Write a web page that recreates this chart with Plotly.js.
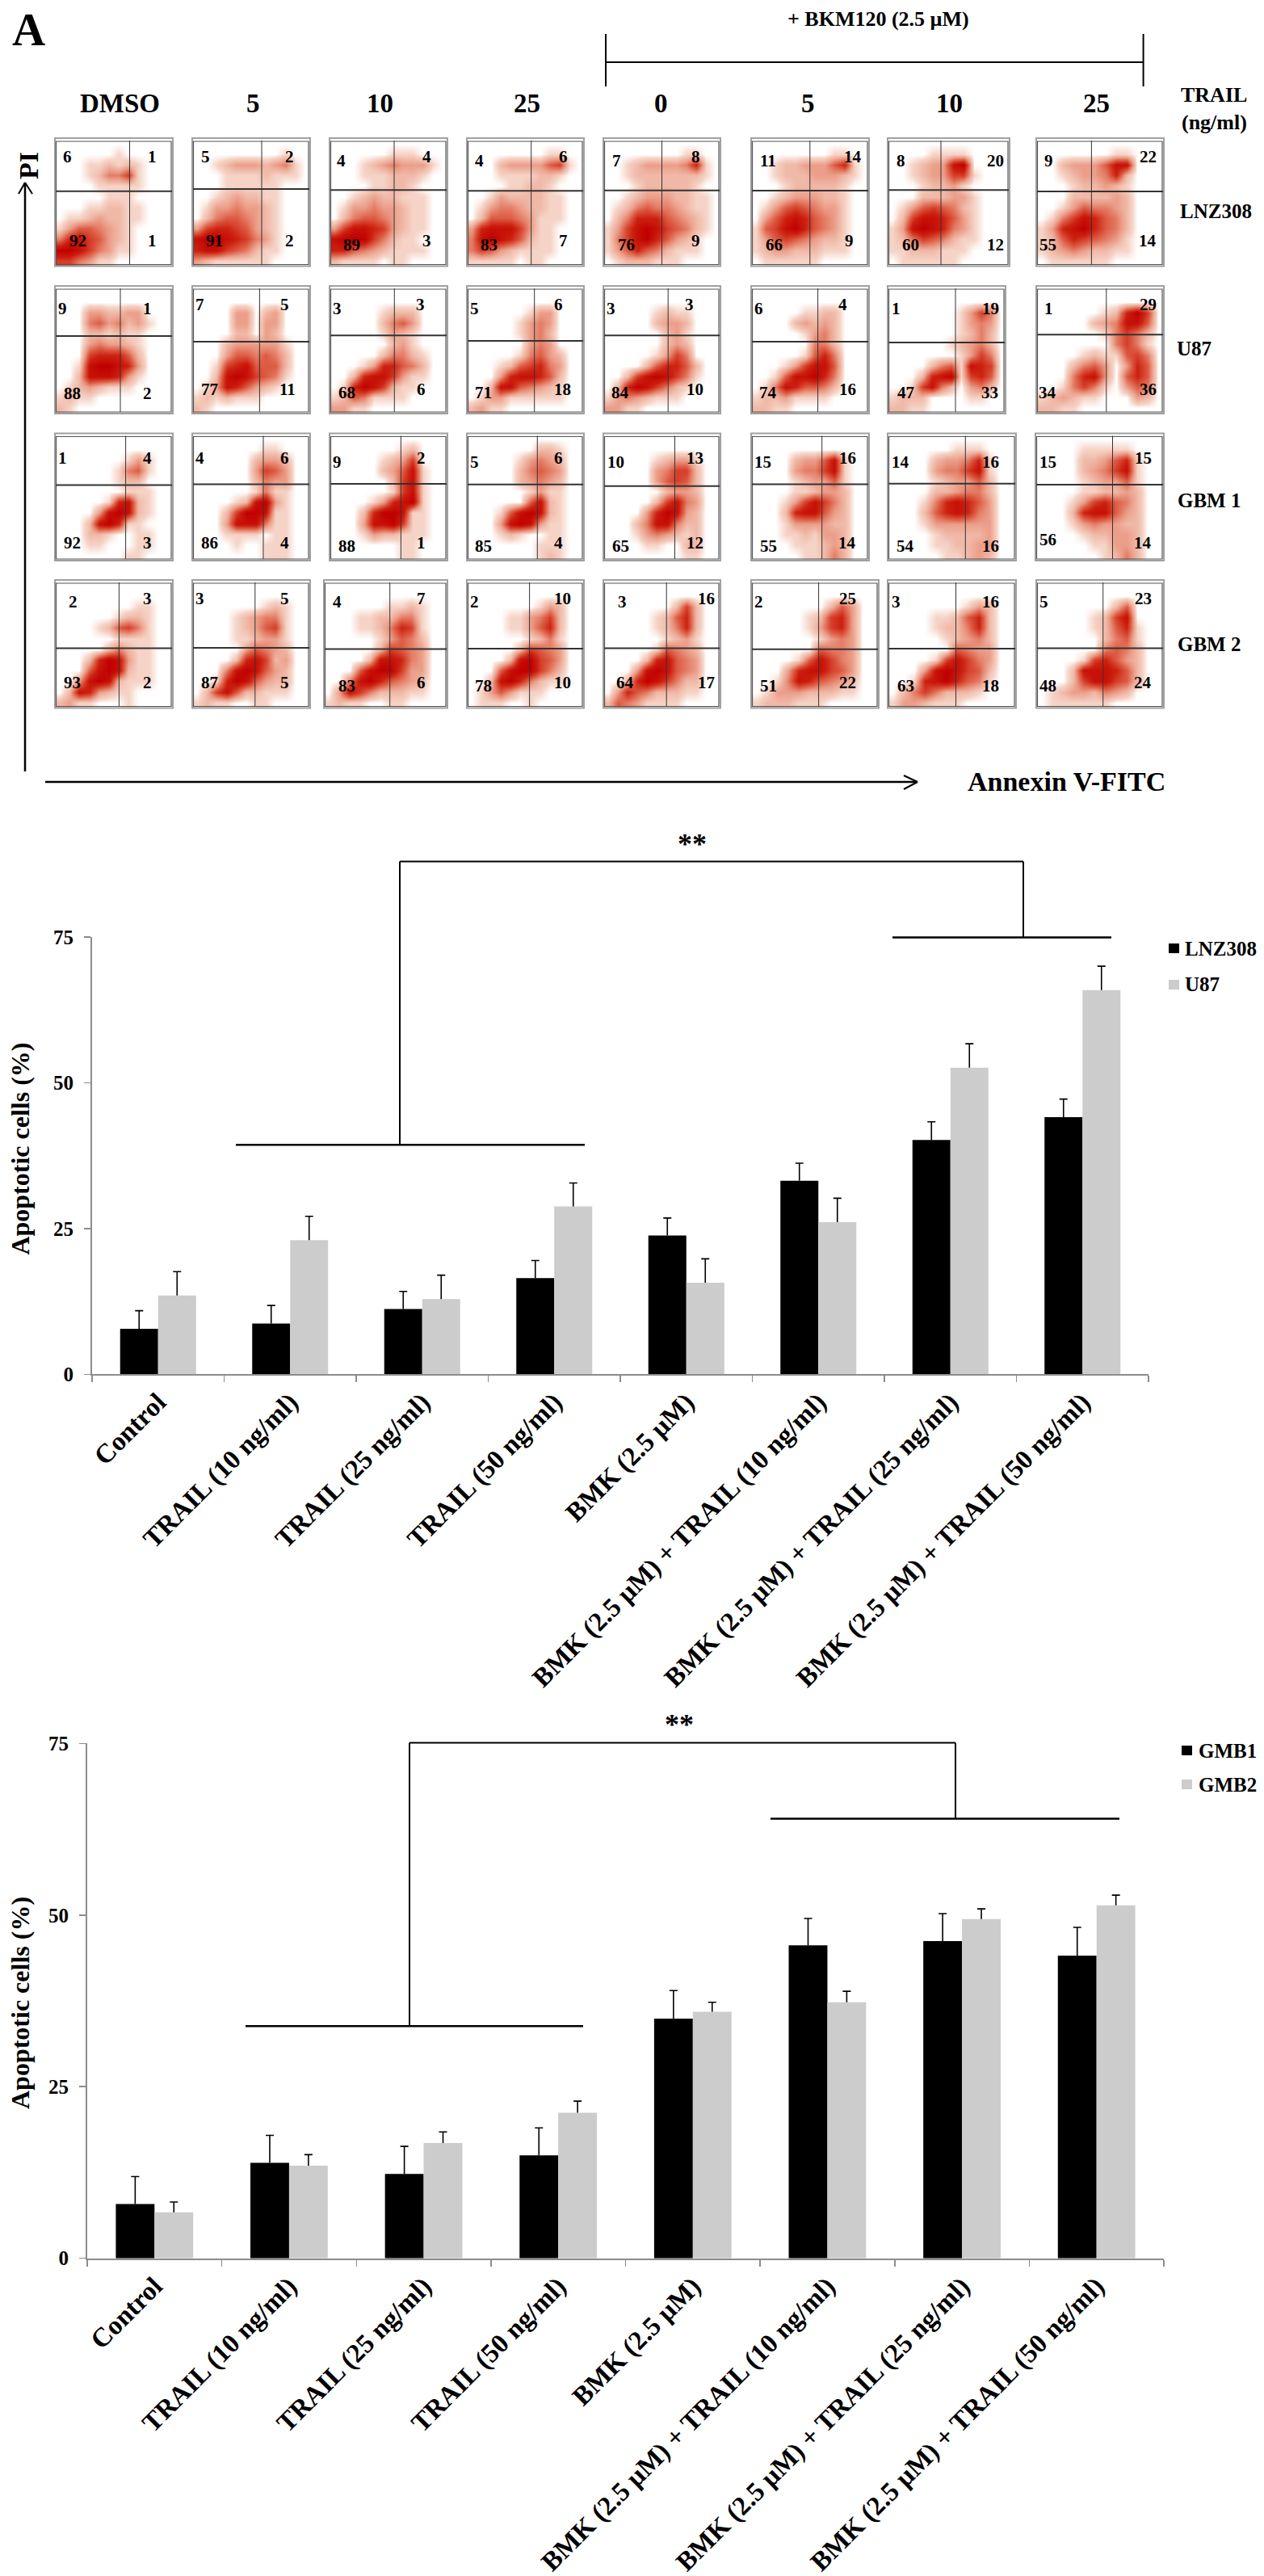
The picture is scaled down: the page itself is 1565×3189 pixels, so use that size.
<!DOCTYPE html>
<html><head><meta charset="utf-8">
<script src="https://cdn.plot.ly/plotly-3.0.1.min.js"></script>
<style>html,body{margin:0;padding:0;background:#fff}</style></head>
<body><div id="chart" style="width:1565px;height:3189px"></div>
<script>
// ---------- bar chart data ----------
const categories = ["Control","TRAIL (10 ng/ml)","TRAIL (25 ng/ml)","TRAIL (50 ng/ml)","BMK (2.5 µM)","BMK (2.5 µM) + TRAIL (10 ng/ml)","BMK (2.5 µM) + TRAIL (25 ng/ml)","BMK (2.5 µM) + TRAIL (50 ng/ml)"];
const lnz308 = [7.8,8.7,11.2,16.5,23.8,33.2,40.2,44.1];
const lnz308Err = [3.1,3.1,3.0,3.0,3.0,3.0,3.1,3.1];
const u87 = [13.5,23.0,12.9,28.8,15.7,26.1,52.6,65.9];
const u87Err = [4.1,4.1,4.1,4.0,4.1,4.1,4.1,4.1];
const gmb1 = [7.9,13.9,12.3,15.0,34.9,45.6,46.2,44.1];
const gmb1Err = [4.0,4.0,4.0,4.0,4.1,3.9,4.0,4.1];
const gmb2 = [6.7,13.5,16.8,21.2,35.9,37.3,49.4,51.4];
const gmb2Err = [1.5,1.6,1.6,1.7,1.4,1.6,1.5,1.5];
const noErr = [0,0,0,0,0,0,0,0];
const yTicks = [0,25,50,75];

// ---------- flow panel labels ----------
const columnLabels = ["DMSO","5","10","25","0","5","10","25"];
const rowLabels = ["LNZ308","U87","GBM 1","GBM 2"];
// quadrant percentages: [upper-left, upper-right, lower-left, lower-right]
const quadLNZ308 = [[6,1,92,1],[5,2,91,2],[4,4,89,3],[4,6,83,7],[7,8,76,9],[11,14,66,9],[8,20,60,12],[9,22,55,14]];
const quadU87 = [[9,1,88,2],[7,5,77,11],[3,3,68,6],[5,6,71,18],[3,3,84,10],[6,4,74,16],[1,19,47,33],[1,29,34,36]];
const quadGBM1 = [[1,4,92,3],[4,6,86,4],[9,2,88,1],[5,6,85,4],[10,13,65,12],[15,16,55,14],[14,16,54,16],[15,15,56,14]];
const quadGBM2 = [[2,3,93,2],[3,5,87,5],[4,7,83,6],[2,10,78,10],[3,16,64,17],[2,25,51,22],[3,16,63,18],[5,23,48,24]];

// ---------- event density: 12 x 12 cells, top row first, 0 (no events) to 9 (solid) ----------
const flowLNZ308 = [
["000000000000","000000100000","000112121000","000124461000","000011111000","000001110000","000112211000","011232211000","135543210000","478653210000","998643110000","664311000000"],
["000000000000","000000000100","001233323410","000111121110","000111111000","001232211000","013343321000","024554321000","367765321000","899876431000","788654211000","321111110000"],
["000000000000","000000111000","000123433310","000111222100","000011221000","001232211100","013343321100","024554321100","368876321100","899964211000","775432111100","211110110000"],
["000000000000","000000001100","000233335610","000111122100","000011221000","001322221100","013443221100","025554311100","378886311000","489875211000","465321111000","111110110000"],
["000000000000","000000001100","001233334710","001222222210","000122222100","001233322110","012454432110","024777543210","136898654210","146897532100","135754211100","012221110000"],
["000000000000","000000001100","001223335710","001222333210","000122222100","001233322100","013565433100","035787543100","156897543100","135654322100","123322211100","011111100000"],
["000000000000","000011110000","001233890000","001233661000","000122310000","000222331000","013565421000","026887531000","138987431000","124654211000","112221110000","011111100000"],
["000000000000","000000011000","002333588000","001233472000","000122321000","000222232000","001354432000","014687542000","137897542000","125765431000","123432211000","011111100000"]];
const flowU87 = [
["000000000000","000000000000","000332233000","000453423100","000221211000","000343321000","000677752000","001899873000","002888731000","012321110000","121100000000","210000000000"],
["000000000000","000000000000","000033023000","000033033000","000022032000","000233333100","000355454200","001678555200","002898654100","013875321000","121211100000","210000000000"],
["000000000000","000000000000","000001222000","000002453000","000001321000","000000231000","000002442100","000137754200","002788631100","017986211000","125411110000","331100000000"],
["000000000000","000000000000","000000133000","000001343000","000001342000","000000343000","000001453200","000125674300","000378875200","002885432100","013311111100","231100000000"],
["000000000000","000000000000","000001211000","000002332000","000000231000","000000232000","000001364000","000025775200","002689864100","027986421000","134321110000","331100000000"],
["000000000000","000000000000","000001122000","000023232000","000001342000","000000442000","000001574000","000136885000","001588974000","014875542000","122311110000","221100000000"],
["000000000000","000000000000","000000013640","000000013430","000000012420","000000123420","000000013640","000024518760","000278916750","001684203420","122200001100","221100000000"],
["000000000000","000000000000","000000127960","000002348850","000000146420","000000046410","000012115640","000245303750","000478305750","001464103540","123211000320","221100000000"]];
const flowGBM1 = [
["000000000000","000000000000","000000013100","000000145100","000000122000","000000011100","000001782100","000038982100","000289711000","000221001100","000110001100","000000011000"],
["000000000000","000000011000","000000233200","000000365300","000000243300","000000141100","000012893100","000269981100","000388841100","000111101100","000010011100","000000011100"],
["000000000000","000000012000","000001236000","000002358100","000000268100","000000168100","000013789100","000279981100","000388961100","000132211100","000000011000","000000011000"],
["000000000000","000000022100","000001343200","000002454300","000002343200","000000131100","000000582100","000158982100","000389831100","000121001100","000000011100","000000012100"],
["000000000000","000000000000","000001233100","000003466200","000003565200","000000233200","000002684300","000037983200","000248842200","000134321200","000011002200","000000001100"],
["000000000000","000000000000","000023358100","000034468100","000012335100","000011233200","000136864200","000278853200","000133332200","000112133200","000011123200","000001124200"],
["000000000000","000000111000","000023347100","000034468100","000012335200","000022344200","000147875300","000257874300","000133333300","000012222300","000011223300","000001123200"],
["000000000000","000011111000","000022357100","000023468100","000012335100","000011223200","000136754200","000278853200","000134332200","000012233200","000001133200","000000124200"]];
const flowGBM2 = [
["000000000000","000000000000","000000001100","000000122100","000012564100","000000111100","000002421100","000279831100","000589821100","003898211100","028732110000","231100010000"],
["000000000000","000000000000","000000012100","000012344100","000012356100","000011233100","000003543200","000027862300","000489853200","001798532200","026852211100","121100110000"],
["000000000000","000000000000","000000112100","000112244100","000112476100","000001354200","000002654300","000028874300","000589963300","004897543200","038642221100","121100110000"],
["000000000000","000000000000","000000013200","000011346200","000011357200","000000124100","000002654300","000028965300","000589964200","002897421100","013531110000","011100100000"],
["000000000000","000000000000","000000026200","000001257200","000001247200","000000123100","000001543200","000027854300","000389854300","002798642200","037542221100","254311110000"],
["000000000000","000000000000","000000025300","000001267300","000001367300","000000134300","000000544300","000015864300","000378865300","001487543200","013332221100","122211100000"],
["000000000000","000000000000","000000013200","000011257200","000012247200","000001234200","000000543300","000016864300","000389865200","001789754100","024642221000","133211100000"],
["000000000000","000000000000","000000025000","000001268000","000001257100","000000245100","000000454200","000016753200","000288875200","000268865200","012332432000","011111100000"]];
const flowGrids = [flowLNZ308,flowU87,flowGBM1,flowGBM2];
const quadValues = [quadLNZ308,quadU87,quadGBM1,quadGBM2];

// ---------- page geometry (pixels) ----------
const W=1565,H=3189;
const px=x=>x/W, py=y=>1-y/H;
const rowY=[[171,329.5],[354,512],[536.5,694],[718,876.5]];
const colX=[
[[68,214],[238,384],[408,554],[578,723],[747,892],[930,1076],[1099,1250],[1283,1441]],
[[68,214],[238,384],[408,554],[578,723],[747,892],[930,1076],[1099,1245],[1283,1441]],
[[68,214],[238,384],[408,554],[578,723],[747,892],[930,1076],[1099,1258],[1282,1441]],
[[68,214],[238,384],[401,554],[578,723],[747,892],[930,1088],[1099,1258],[1283,1441]]];
const gateV=[
[160.5,324,488,657.7,819.5,1002.8,1165,1351.4],
[149,321.4,488.3,661.7,827.2,1012.6,1183,1369.8],
[155.6,326,496.4,665.3,835.5,1017.7,1195.3,1377.5],
[147.4,315.8,482.7,655.6,825.2,1013.6,1183.5,1365.7]];
const gateH=[
[236.7,234,235.3,236.3,235.7,236,235.3,237],
[416,423,415.3,422,415.3,423,424,414.3],
[600.4,599.4,599.1,599.7,601.7,599.4,598.7,600],
[802.4,802.1,803.4,803.1,802.4,803.7,803.1,802.4]];
const labelX=[
[[83,188,96,188],[254,358,265,358],[423,528,435,528],[593,697,605,697],[763,861,775,861],[951,1056,958,1051],[1115,1232,1127,1232],[1298,1421,1297,1421]],
[[77,182,89,182],[247,352,259,356],[417,520,429,521],[587,691,598,696],[756,853,768,860],[939,1043,951,1049],[1109,1226,1121,1225],[1298,1421,1297,1421]],
[[77,182,89,182],[247,352,259,352],[417,521,429,521],[587,691,598,691],[762,860,768,860],[945,1049,951,1049],[1115,1226,1121,1226],[1297,1415,1297,1415]],
[[90,182,89,182],[247,352,259,352],[417,521,429,521],[587,696,598,696],[770,874,774,874],[939,1049,951,1049],[1109,1226,1121,1226],[1292,1415,1297,1415]]];
const labelY=[
[[194,194,298,298],[194,194,298,298],[199,194,303,298],[199,194,303,298],[199,194,303,298],[199,194,303,298],[199,199,303,303],[199,194,303,298]],
[[382,382,487,487],[377,377,482,482],[382,377,486,482],[382,377,486,482],[382,377,486,482],[382,377,486,482],[382,382,486,486],[382,377,486,482]],
[[567,567,672,672],[567,567,672,672],[572,567,676,672],[572,567,676,672],[572,567,676,672],[572,567,676,672],[572,572,676,676],[572,567,668,672]],
[[745,741,845,845],[741,741,845,845],[745,741,849,845],[745,741,849,845],[745,741,845,845],[745,741,849,845],[745,745,849,849],[745,741,849,845]]];

const SERIF='"Liberation Serif","Times New Roman",serif';
const traces=[],shapes=[],annotations=[];
const layout={width:W,height:H,margin:{l:0,r:0,t:0,b:0},paper_bgcolor:'#fff',plot_bgcolor:'rgba(0,0,0,0)',showlegend:false,bargap:0.425,bargroupgap:0,barmode:'group',font:{family:SERIF,color:'#000'},hovermode:false};

function text(t,x,y,size,extra){annotations.push(Object.assign({text:t,xref:'paper',yref:'paper',x:px(x),y:py(y),showarrow:false,xanchor:'center',yanchor:'middle',font:{family:SERIF,size:size,color:'#000',weight:700}},extra||{}));}
function line(x0,y0,x1,y1,w,c){shapes.push({type:'line',xref:'paper',yref:'paper',x0:px(x0),y0:py(y0),x1:px(x1),y1:py(y1),line:{color:c||'#000',width:w||2}});}

// ---------- bar charts ----------
function barChart(suffix,box,s1,e1,c1,s2,e2,c2){
  const common={type:'bar',x:categories,xaxis:'x'+suffix,yaxis:'y'+suffix,hoverinfo:'skip'};
  traces.push(Object.assign({},common,{name:c1,y:s1,marker:{color:'#000000'},error_y:{type:'data',symmetric:false,array:e1,arrayminus:noErr,color:'#000',thickness:1.6,width:5}}));
  traces.push(Object.assign({},common,{name:c2,y:s2,marker:{color:'#cccccc'},error_y:{type:'data',symmetric:false,array:e2,arrayminus:noErr,color:'#000',thickness:1.6,width:5}}));
  layout['xaxis'+suffix]={domain:[px(box.l),px(box.r)],anchor:'y'+suffix,type:'category',tickson:'boundaries',tickangle:-45,ticks:'outside',ticklen:8,tickwidth:1.5,tickcolor:'#8c8c8c',showline:true,linecolor:'#8c8c8c',linewidth:2,showgrid:false,zeroline:false,tickfont:{family:SERIF,size:33,color:'#000',weight:700},automargin:false,fixedrange:true};
  layout['yaxis'+suffix]={domain:[py(box.b),py(box.t)],anchor:'x'+suffix,range:[0,75],tickvals:yTicks,ticks:'outside',ticklen:8,tickwidth:1.5,tickcolor:'#8c8c8c',showline:true,linecolor:'#8c8c8c',linewidth:2,showgrid:false,zeroline:false,ticklabelstandoff:8,tickfont:{family:SERIF,size:25,color:'#000',weight:700},automargin:false,fixedrange:true};
}
barChart('',{l:114,r:1422,t:1160,b:1701.3},lnz308,lnz308Err,'LNZ308',u87,u87Err,'U87');
barChart('2',{l:108,r:1441,t:2158.3,b:2795.7},gmb1,gmb1Err,'GMB1',gmb2,gmb2Err,'GMB2');
// axis titles
text('Apoptotic cells (%)',25,1422.6,32,{textangle:-90});
text('Apoptotic cells (%)',25,2480,32,{textangle:-90});
// significance brackets
[[495,1267,1066.6,1417.3,1160.6,292,724,1105,1376],[507,1183,2157.6,2508.3,2251.4,304,722,954,1386]].forEach(b=>{
  line(b[0],b[2],b[1],b[2],2);line(b[0],b[2],b[0],b[3],2);line(b[1],b[2],b[1],b[4],2);
  line(b[5],b[3],b[6],b[3],2.5);line(b[7],b[4],b[8],b[4],2.5);
});
text('**',857,1045,36);
text('**',841,2135,36);
// series keys
function key(x0,y0,color,label,tx,ty,size){shapes.push({type:'rect',xref:'paper',yref:'paper',x0:px(x0),x1:px(x0+13),y0:py(y0),y1:py(y0+12),fillcolor:color,line:{width:0}});text(label,tx,ty,size,{xanchor:'left'});}
key(1447,1168,'#000000','LNZ308',1465,1174,25);
key(1447,1213,'#cccccc','U87',1465,1218,25);
key(1463,2161,'#000000','GMB1',1482,2167,25);
key(1463,2203,'#cccccc','GMB2',1482,2209,25);

// ---------- flow cytometry panels ----------
const cells=[0,1,2,3,4,5,6,7,8,9,10,11].map(k=>(k+0.5)/12);
const redScale=[[0,'#ffffff'],[0.11,'#f5d3c6'],[0.33,'#eb9f8a'],[0.55,'#dd5c44'],[0.78,'#cc2010'],[1,'#c00000']];
let axisId=3;
flowGrids.forEach((rowGrids,r)=>{
  rowGrids.forEach((grid,c)=>{
    const id=axisId++;
    const [x0,x1]=colX[r][c],[y0,y1]=rowY[r];
    traces.push({type:'heatmap',x:cells,y:cells,z:grid.slice().reverse().map(s=>s.split('').map(Number)),zmin:0,zmax:9,zsmooth:'best',colorscale:redScale,showscale:false,hoverinfo:'skip',xaxis:'x'+id,yaxis:'y'+id});
    layout['xaxis'+id]={domain:[px(x0),px(x1)],range:[0,1],visible:false,anchor:'y'+id,fixedrange:true};
    layout['yaxis'+id]={domain:[py(y1),py(y0)],range:[0,1],visible:false,anchor:'x'+id,fixedrange:true};
    // gray frame with the darker plot box just inside it
    shapes.push({type:'rect',xref:'paper',yref:'paper',x0:px(x0),x1:px(x1),y0:py(y0),y1:py(y1),line:{color:'#a0a0a0',width:2},fillcolor:'rgba(0,0,0,0)'});
    shapes.push({type:'rect',xref:'paper',yref:'paper',x0:px(x0+1.5),x1:px(x1-2),y0:py(y0+4),y1:py(y1-2),line:{color:'#555',width:1.2},fillcolor:'rgba(0,0,0,0)'});
    // gates
    line(gateV[r][c],y0+3,gateV[r][c],y1-2,1,'#333');
    line(x0+1,gateH[r][c],x1-1,gateH[r][c],2,'#333');
    // quadrant percentages
    quadValues[r][c].forEach((v,q)=>text(String(v),labelX[r][c][q],labelY[r][c][q],21));
  });
});
// column and row titles
[148,313,470,652,818,1000,1175,1357].forEach((x,i)=>text(columnLabels[i],x,128,33));
[[1505,262],[1478,432],[1497,619],[1497,797]].forEach((p,i)=>text(rowLabels[i],p[0],p[1],25));
text('TRAIL',1503,118,26);
text('(ng/ml)',1503,151,26);
text('+ BKM120 (2.5 µM)',1087,23,26);
text('A',35,36,57);
text('PI',35,205,34,{textangle:-90});
text('Annexin V-FITC',1320,967,34);
// BKM120 bracket
line(750,77,1415.6,77,2);line(750,42,750,107,2);line(1415.6,42,1415.6,107,2);
// PI / Annexin axes arrows
line(31,226,31,955,2.5);line(31,226,23,240,2);line(31,226,40,240,2);
line(56,968,1136,968,2.5);line(1136,968,1119,960,2);line(1136,968,1119,977,2);

layout.shapes=shapes;layout.annotations=annotations;
Plotly.newPlot('chart',traces,layout,{staticPlot:true,displayModeBar:false}).then(()=>{
  // the reference shows only the upper whisker cap: drop the zero-length lower cap Plotly adds
  document.querySelectorAll('.errorbar path.yerror').forEach(p=>{
    const d=p.getAttribute('d');
    if(d) p.setAttribute('d',d.replace(/m-[\d.]+,0h[\d.]+$/,''));
  });
});
</script></body></html>
